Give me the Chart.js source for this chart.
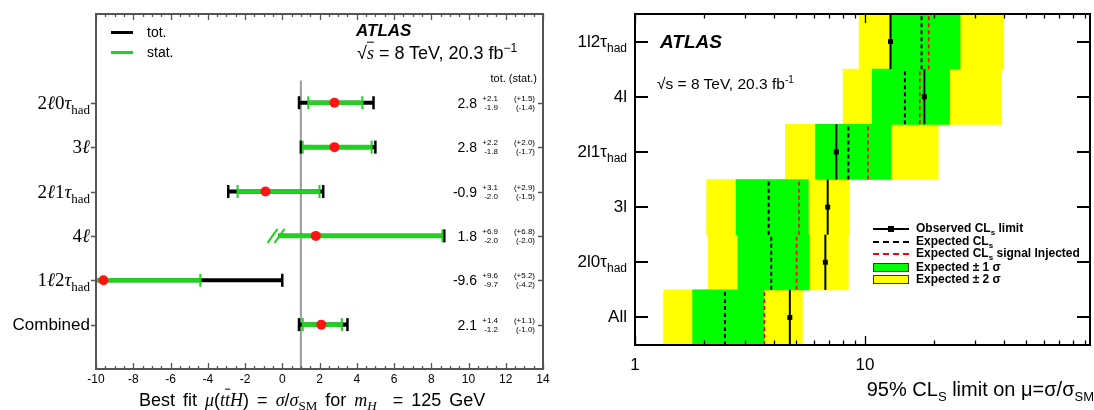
<!DOCTYPE html>
<html>
<head>
<meta charset="utf-8">
<script src="https://cdn.jsdelivr.net/npm/chart.js@4.4.1/dist/chart.umd.min.js"></script>
<style>
  body { margin: 0; background: #fff; }
  #wrap { position: relative; width: 1094px; height: 410px; overflow: hidden;
          font-family: "Liberation Sans", Arial, sans-serif; color: #000; }
  canvas { position: absolute; top: 0; }
  .t { position: absolute; white-space: nowrap; transform: translateY(-50%); line-height: 1.15; }
  .t sub, .t sup { line-height: 0; }
  .m { font-family: "Liberation Serif", "DejaVu Serif", serif; }
  .ov { text-decoration: overline; }
  .sw { position: absolute; box-sizing: border-box; }
</style>
</head>
<body>
<div id="wrap">
  <canvas id="left" width="560" height="410" style="left:0"></canvas>
  <canvas id="right" width="534" height="410" style="left:560px"></canvas>
</div>
<script>
// ---- left panel: best-fit signal strength per channel ----
const fitCats = ['2ℓ0τ_had', '3ℓ', '2ℓ1τ_had', '4ℓ', '1ℓ2τ_had', 'Combined'];
const fitRows = [6, 5, 4, 3, 2, 1];
const muBest  = [2.8, 2.8, -0.9, 1.8, -9.6, 2.1];
const totUp   = [2.1, 2.2, 3.1, 6.9, 9.6, 1.4];
const totDn   = [1.9, 1.8, 2.0, 2.0, 9.7, 1.2];
const statUp  = [1.5, 2.0, 2.9, 6.8, 5.2, 1.1];
const statDn  = [1.4, 1.7, 1.5, 2.0, 4.2, 1.0];
const brokenLow = [false, false, false, true, false, false];
const smMu = 1;

// ---- right panel: 95% CLs upper limits ----
const limCats = ['1l2τ_had', '4l', '2l1τ_had', '3l', '2l0τ_had', 'All'];
const limRows = [5.5, 4.5, 3.5, 2.5, 1.5, 0.5];
const obsLimit    = [12.9, 18.1, 7.5, 6.88, 6.72, 4.71];
const expLimit    = [17.6, 14.9, 8.46, 3.81, 3.91, 2.46];
const expInjected = [18.9, 17.3, 10.3, 5.16, 5.04, 3.65];
const exp1Lo = [12.95, 10.75, 6.09, 2.75, 2.80, 1.78];
const exp1Hi = [25.9, 23.3, 12.97, 5.67, 5.73, 3.64];
const exp2Lo = [9.42, 8.03, 4.5, 2.05, 2.08, 1.33];
const exp2Hi = [40.1, 39.2, 20.8, 8.52, 8.46, 5.34];
const logTicks = [1, 10];

Chart.defaults.font.family = '"Liberation Sans", Arial, sans-serif';
Chart.defaults.color = '#000';

const green = '#22d022';
const wrap = document.getElementById('wrap');

function place(html, x, y, css, align) {
  const d = document.createElement('div');
  d.className = 't';
  d.innerHTML = html;
  if (css) d.style.cssText = css;
  if (align === 'right') d.style.right = (1094 - x) + 'px';
  else d.style.left = x + 'px';
  d.style.top = y + 'px';
  wrap.appendChild(d);
  return d;
}

function mathLabel(s) {
  const parts = s.split('_');
  let h = parts[0].replace(/[ℓτ]/g, c => '<i>' + c + '</i>');
  if (parts[1]) h += '<sub style="font-size:13px">' + parts[1] + '</sub>';
  return h;
}

// ---------- left chart ----------
const totCaps = [], statCaps = [];
fitRows.forEach((r, i) => {
  if (!brokenLow[i]) {
    totCaps.push({ x: muBest[i] - totDn[i], y: r });
    statCaps.push({ x: muBest[i] - statDn[i], y: r });
  }
  totCaps.push({ x: muBest[i] + totUp[i], y: r });
  statCaps.push({ x: muBest[i] + statUp[i], y: r });
});

const leftFrame = {
  id: 'leftFrame',
  afterDraw(chart) {
    const { ctx, chartArea: a, scales: { x, y } } = chart;
    ctx.save();
    ctx.strokeStyle = '#555';
    ctx.lineWidth = 2;
    ctx.strokeRect(a.left, a.top, a.right - a.left, a.bottom - a.top);
    ctx.lineWidth = 1.3;
    ctx.beginPath();
    for (let v = x.min; v <= x.max + 1e-9; v += 0.5) {
      const px = Math.round(x.getPixelForValue(v)) + 0.5;
      const len = Math.abs(v % 2) < 1e-9 ? 6 : 3;
      ctx.moveTo(px, a.bottom); ctx.lineTo(px, a.bottom - len);
      ctx.moveTo(px, a.top); ctx.lineTo(px, a.top + len);
    }
    fitRows.forEach(r => {
      const py = Math.round(y.getPixelForValue(r)) + 0.5;
      ctx.moveTo(a.left - 5, py); ctx.lineTo(a.left, py);
      ctx.moveTo(a.right, py); ctx.lineTo(a.right - 5, py);
    });
    ctx.stroke();
    // axis-break marks where the interval is cut
    ctx.strokeStyle = green;
    ctx.lineWidth = 2;
    ctx.beginPath();
    fitRows.forEach((r, i) => {
      if (!brokenLow[i]) return;
      const px = x.getPixelForValue(muBest[i] - statDn[i]);
      const py = y.getPixelForValue(r);
      ctx.moveTo(px - 11, py + 7); ctx.lineTo(px - 1, py - 7);
      ctx.moveTo(px - 4, py + 7); ctx.lineTo(px + 6, py - 7);
    });
    ctx.stroke();
    ctx.restore();
  }
};

const leftChart = new Chart(document.getElementById('left'), {
  type: 'scatter',
  data: {
    datasets: [
      { type: 'scatter', data: muBest.map((m, i) => ({ x: m, y: fitRows[i] })),
        pointRadius: 5, pointBackgroundColor: '#ff1414', pointBorderWidth: 0, order: 0 },
      { type: 'scatter', data: statCaps, pointStyle: 'line', pointRotation: 90,
        pointRadius: 6.5, pointBorderColor: green, pointBorderWidth: 2, order: 1 },
      { type: 'bar', indexAxis: 'y', grouped: false, barThickness: 4,
        data: fitRows.map((r, i) => ({ y: r, x: [muBest[i] - statDn[i], muBest[i] + statUp[i]] })),
        backgroundColor: green, borderWidth: 0, order: 2 },
      { type: 'scatter', data: totCaps, pointStyle: 'line', pointRotation: 90,
        pointRadius: 6.5, pointBorderColor: '#000', pointBorderWidth: 2.5, order: 3 },
      { type: 'bar', indexAxis: 'y', grouped: false, barThickness: 3.5,
        data: fitRows.map((r, i) => ({ y: r, x: [muBest[i] - totDn[i], muBest[i] + totUp[i]] })),
        backgroundColor: '#000', borderWidth: 0, order: 4 },
      { type: 'scatter', showLine: true, data: [{ x: smMu, y: 0 }, { x: smMu, y: 6.5 }],
        borderColor: '#9a9a9a', borderWidth: 2, pointRadius: 0, order: 5 }
    ]
  },
  options: {
    responsive: false, animation: false, events: [],
    layout: { padding: { left: 96, right: 17, top: 14, bottom: 0 } },
    plugins: { legend: { display: false }, tooltip: { enabled: false } },
    scales: {
      x: { type: 'linear', min: -10, max: 14, offset: false,
           ticks: { stepSize: 2, padding: 3, font: { size: 12 }, maxRotation: 0 },
           grid: { display: false, drawTicks: false }, border: { display: false },
           afterFit: s => { s.height = 41; } },
      y: { type: 'linear', min: 0, max: 8, offset: false, display: false }
    }
  },
  plugins: [leftFrame]
});

// ---------- right chart ----------
function rowLines(vals, color, dash, width, order) {
  return vals.map((v, i) => ({
    type: 'scatter', showLine: true,
    data: [{ x: v, y: limRows[i] - 0.5 }, { x: v, y: limRows[i] + 0.5 }],
    borderColor: color, borderDash: dash, borderWidth: width, pointRadius: 0, order: order
  }));
}

const rightFrame = {
  id: 'rightFrame',
  afterDraw(chart) {
    const { ctx, chartArea: a, scales: { x, y } } = chart;
    ctx.save();
    ctx.strokeStyle = '#000';
    ctx.lineWidth = 2;
    ctx.strokeRect(a.left, a.top, a.right - a.left, a.bottom - a.top);
    ctx.lineWidth = 1.3;
    ctx.beginPath();
    for (let d = 1; d <= x.max; d *= 10) {
      for (let k = 1; k <= 9; k++) {
        const v = d * k;
        if (v > x.max) break;
        const px = Math.round(x.getPixelForValue(v)) + 0.5;
        const len = k === 1 ? 9 : 4.5;
        ctx.moveTo(px, a.bottom); ctx.lineTo(px, a.bottom - len);
        ctx.moveTo(px, a.top); ctx.lineTo(px, a.top + len);
      }
    }
    ctx.stroke();
    ctx.lineWidth = 2;
    ctx.beginPath();
    limRows.forEach(r => {
      const py = Math.round(y.getPixelForValue(r));
      ctx.moveTo(a.left, py); ctx.lineTo(a.left + 13, py);
      ctx.moveTo(a.right, py); ctx.lineTo(a.right - 13, py);
    });
    ctx.stroke();
    ctx.restore();
  }
};

const rightChart = new Chart(document.getElementById('right'), {
  type: 'scatter',
  data: {
    datasets: [
      { type: 'scatter', data: obsLimit.map((v, i) => ({ x: v, y: limRows[i] })),
        pointStyle: 'rect', pointRadius: 3.5, pointBackgroundColor: '#000', pointBorderWidth: 0, order: 0 },
      ...rowLines(obsLimit, '#000', [], 2, 1),
      ...rowLines(expInjected, '#ff0000', [4, 3], 1.6, 2),
      ...rowLines(expLimit, '#000', [4, 3], 2, 3),
      { type: 'bar', indexAxis: 'y', grouped: false, barPercentage: 1, categoryPercentage: 1,
        data: limRows.map((r, i) => ({ y: r, x: [exp1Lo[i], exp1Hi[i]] })),
        backgroundColor: '#00ff00', borderWidth: 0, order: 4 },
      { type: 'bar', indexAxis: 'y', grouped: false, barPercentage: 1, categoryPercentage: 1,
        data: limRows.map((r, i) => ({ y: r, x: [exp2Lo[i], exp2Hi[i]] })),
        backgroundColor: '#ffff00', borderWidth: 0, order: 5 }
    ]
  },
  options: {
    responsive: false, animation: false, events: [],
    layout: { padding: { left: 75, right: 2, top: 14, bottom: 0 } },
    plugins: { legend: { display: false }, tooltip: { enabled: false } },
    scales: {
      x: { type: 'logarithmic', min: 1, max: 95, offset: false,
           afterBuildTicks: s => { s.ticks = logTicks.map(v => ({ value: v })); },
           ticks: { callback: v => String(v), padding: 10, font: { size: 17 }, autoSkip: false, maxRotation: 0 },
           grid: { display: false, drawTicks: false }, border: { display: false },
           afterFit: s => { s.height = 65; } },
      y: { type: 'linear', min: 0, max: 6, offset: false, display: false, ticks: { stepSize: 1 } }
    }
  },
  plugins: [rightFrame]
});

// ---------- text: left panel ----------
const ly = leftChart.scales.y;
fitCats.forEach((c, i) => {
  const py = Math.round(ly.getPixelForValue(fitRows[i]));
  if (c.indexOf('ℓ') >= 0) place(mathLabel(c), 90, py, 'font-size:19px', 'right').classList.add('m');
  else place(c, 90, py, 'font-size:17px', 'right');
  place(muBest[i].toFixed(1), 477, py, 'font-size:14px', 'right');
  place('+' + totUp[i].toFixed(1) + '<br>-' + totDn[i].toFixed(1), 498, py,
        'font-size:8px;line-height:8.5px;text-align:right', 'right');
  place('(+' + statUp[i].toFixed(1) + ')<br>(-' + statDn[i].toFixed(1) + ')', 535, py,
        'font-size:8px;line-height:8.5px;text-align:right', 'right');
});
place('tot. (stat.)', 537, 78, 'font-size:11px', 'right');

// legend (left)
[['#000', 'tot.', 32], [green, 'stat.', 52]].forEach(([col, txt, yy]) => {
  const s = document.createElement('div');
  s.className = 'sw';
  s.style.cssText = 'left:111px;width:22px;height:3px;top:' + (yy - 1.5) + 'px;background:' + col;
  wrap.appendChild(s);
  place(txt, 147, yy, 'font-size:14px');
});
place('<b><i>ATLAS</i></b>', 356, 31, 'font-size:17px');
place('√<span class="m ov"><i>s</i></span> = 8 TeV, 20.3 fb<sup style="font-size:12px">−1</sup>', 357, 53, 'font-size:18px');
place('Best fit <i class="m">μ</i>(<i class="m">t</i><i class="m ov">t</i><i class="m">H</i>) = ' +
      '<i class="m">σ</i>/<i class="m">σ</i><sub class="m" style="font-size:13px">SM</sub> for ' +
      '<i class="m">m</i><sub class="m" style="font-size:13px"><i>H</i></sub> &nbsp;= 125 GeV',
      139, 400, 'font-size:18px;word-spacing:3px');

// ---------- text: right panel ----------
const ry = rightChart.scales.y;
limCats.forEach((c, i) => {
  const py = Math.round(ry.getPixelForValue(limRows[i]));
  const parts = c.split('_');
  let h = parts[0];
  if (parts[1]) h += '<sub style="font-size:12px">' + parts[1] + '</sub>';
  place(h, 627, py, 'font-size:17px', 'right');
});
place('<b><i>ATLAS</i></b>', 660, 42, 'font-size:19px');
place('√s = 8 TeV, 20.3 fb<sup style="font-size:10px">-1</sup>', 657, 84, 'font-size:15.5px');
place('95% CL<sub style="font-size:13px">S</sub> limit on μ=σ/σ<sub style="font-size:13px">SM</sub>',
      1094, 389, 'font-size:20px', 'right');

// legend (right)
const legRows = [229, 241.7, 254.3, 267.7, 279.7];
const legText = ['Observed CL<sub style="font-size:8px">s</sub> limit',
                 'Expected CL<sub style="font-size:8px">s</sub>',
                 'Expected CL<sub style="font-size:8px">s</sub> signal Injected',
                 'Expected ± 1 σ', 'Expected ± 2 σ'];
const legSwatch = [
  'height:0;border-top:2px solid #000',
  'height:0;border-top:2px dashed #000',
  'height:0;border-top:2px dashed #f00',
  'height:9px;background:#00ff00;border:1.5px solid #3a3a20',
  'height:9px;background:#ffff00;border:1.5px solid #3a3a20'
];
legRows.forEach((yy, i) => {
  const s = document.createElement('div');
  s.className = 'sw';
  const h = i < 3 ? 2 : 9;
  s.style.cssText = legSwatch[i] + ';left:873px;width:36px;top:' + (yy - h / 2) + 'px';
  wrap.appendChild(s);
  place(legText[i], 916, yy, 'font-size:12px;font-weight:bold');
});
const mk = document.createElement('div');
mk.className = 'sw';
mk.style.cssText = 'left:888px;top:' + (legRows[0] - 3) + 'px;width:6px;height:6px;background:#000';
wrap.appendChild(mk);
</script>
</body>
</html>
